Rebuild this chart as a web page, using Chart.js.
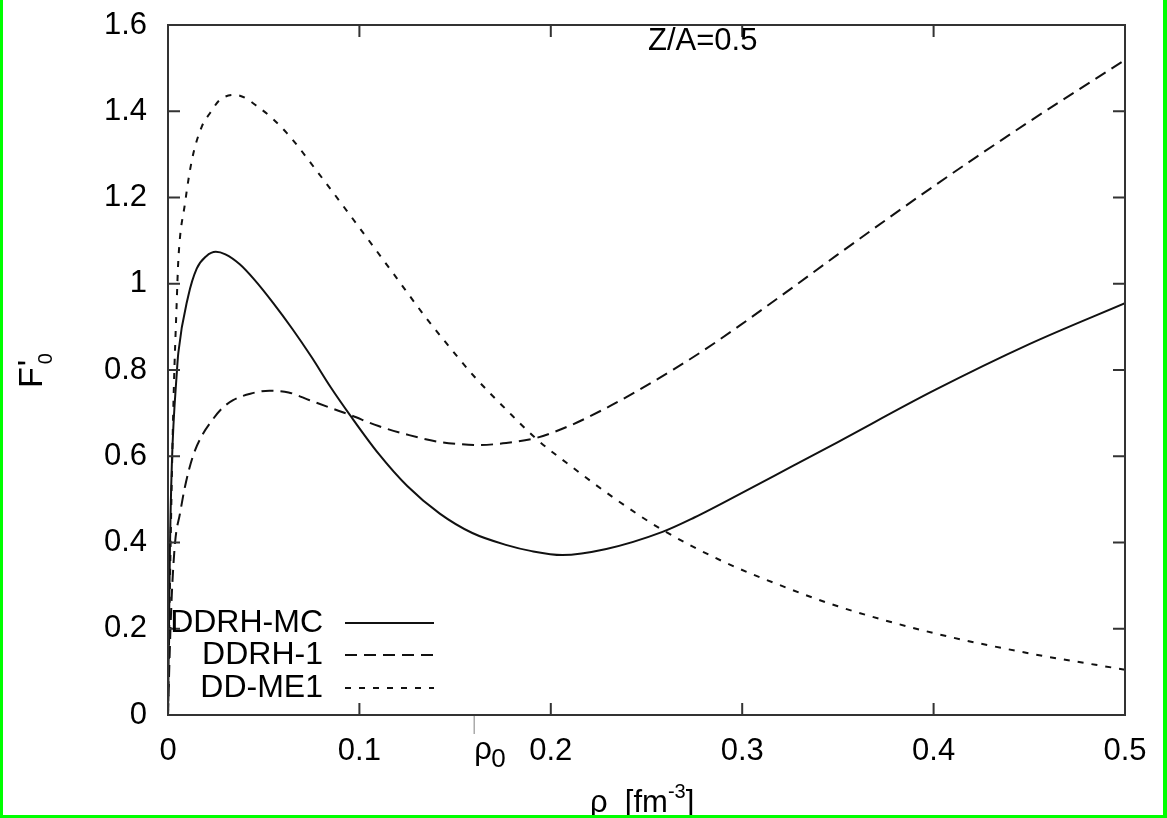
<!DOCTYPE html>
<html>
<head>
<meta charset="utf-8">
<script src="https://cdn.jsdelivr.net/npm/chart.js@4.4.1/dist/chart.umd.min.js"></script>
<style>
  html, body { margin: 0; padding: 0; background: #fff; }
  #wrap { width: 1167px; height: 818px; }
</style>
</head>
<body>
<div id="wrap"><canvas id="grafico" width="1167" height="818"></canvas></div>
<script>
// densidad rho [fm^-3] y F'0 para cada parametrizacion
const rhoMC = [0, 0.001, 0.002, 0.0047, 0.0054, 0.0105, 0.015, 0.02, 0.025, 0.03, 0.0375, 0.045, 0.055, 0.065, 0.075, 0.085, 0.095, 0.11, 0.125, 0.142, 0.159, 0.177, 0.19, 0.206, 0.229, 0.258, 0.275, 0.29, 0.325, 0.35, 0.4, 0.45, 0.5];
const valMC = [0, 0.38, 0.58, 0.8, 0.84, 0.97, 1.035, 1.064, 1.074, 1.068, 1.045, 1.01, 0.955, 0.895, 0.83, 0.76, 0.696, 0.606, 0.531, 0.467, 0.422, 0.394, 0.38, 0.371, 0.385, 0.424, 0.458, 0.492, 0.574, 0.633, 0.752, 0.86, 0.955];

const rho1 = [0, 0.001, 0.002, 0.0037, 0.0063, 0.0089, 0.013, 0.018, 0.022, 0.028, 0.034, 0.043, 0.053, 0.063, 0.074, 0.085, 0.095, 0.11, 0.126, 0.142, 0.153, 0.163, 0.175, 0.192, 0.21, 0.229, 0.245, 0.264, 0.28, 0.299, 0.325, 0.35, 0.4, 0.45, 0.5];
const val1 = [0, 0.16, 0.28, 0.4, 0.468, 0.53, 0.6, 0.65, 0.677, 0.71, 0.73, 0.745, 0.752, 0.748, 0.73, 0.712, 0.696, 0.67, 0.649, 0.633, 0.628, 0.626, 0.63, 0.642, 0.671, 0.712, 0.751, 0.801, 0.846, 0.904, 0.987, 1.068, 1.226, 1.376, 1.519];

const rhoME = [0, 0.001, 0.002, 0.003, 0.0045, 0.0054, 0.0089, 0.0125, 0.0176, 0.022, 0.027, 0.035, 0.048, 0.062, 0.078, 0.1, 0.118, 0.135, 0.144, 0.16, 0.177, 0.192, 0.212, 0.235, 0.258, 0.29, 0.325, 0.35, 0.4, 0.45, 0.5];
const valME = [0, 0.3, 0.55, 0.75, 0.95, 1.055, 1.187, 1.287, 1.364, 1.396, 1.426, 1.438, 1.407, 1.35, 1.26, 1.13, 1.022, 0.92, 0.87, 0.785, 0.707, 0.642, 0.572, 0.497, 0.43, 0.356, 0.292, 0.252, 0.19, 0.143, 0.105];

const etiquetas = ['DDRH-MC', 'DDRH-1', 'DD-ME1'];
const rho0 = 0.16;
const ticksX = [0, 0.1, 0.2, 0.3, 0.4, 0.5];
const ticksY = [0, 0.2, 0.4, 0.6, 0.8, 1, 1.2, 1.4, 1.6];

const FUENTE = '"Liberation Sans", Arial, sans-serif';
const puntos = (xs, ys) => xs.map((x, i) => ({ x: x, y: ys[i] }));

// marco, ticks hacia dentro, leyenda y textos tipo gnuplot
const decorado = {
  id: 'decorado',
  afterDraw(chart) {
    const ctx = chart.ctx;
    const a = chart.chartArea;
    const sx = chart.scales.x;
    const sy = chart.scales.y;
    ctx.save();

    ctx.strokeStyle = '#333';
    ctx.lineWidth = 2;
    ctx.strokeRect(a.left, a.top, a.right - a.left, a.bottom - a.top);
    ctx.beginPath();
    ticksX.forEach(v => {
      const px = sx.getPixelForValue(v);
      ctx.moveTo(px, a.bottom); ctx.lineTo(px, a.bottom - 12);
      ctx.moveTo(px, a.top); ctx.lineTo(px, a.top + 12);
    });
    ticksY.forEach(v => {
      const py = sy.getPixelForValue(v);
      ctx.moveTo(a.left, py); ctx.lineTo(a.left + 12, py);
      ctx.moveTo(a.right, py); ctx.lineTo(a.right - 12, py);
    });
    ctx.stroke();

    // marca de rho0 bajo el eje
    const p0 = sx.getPixelForValue(rho0);
    ctx.strokeStyle = '#aaa';
    ctx.lineWidth = 1.5;
    ctx.beginPath();
    ctx.moveTo(p0, a.bottom + 1); ctx.lineTo(p0, a.bottom + 19);
    ctx.stroke();

    ctx.fillStyle = '#000';
    ctx.textAlign = 'left';
    ctx.textBaseline = 'alphabetic';
    ctx.font = '31px ' + FUENTE;
    ctx.fillText('ρ', p0, 759);
    ctx.font = '26px ' + FUENTE;
    ctx.fillText('0', p0 + 17, 767);

    ctx.font = '31px ' + FUENTE;
    ctx.fillText('Z/A=0.5', 648, 50);

    // titulo eje x
    ctx.font = '31px ' + FUENTE;
    let x = 590;
    ctx.fillText('ρ  [fm', x, 812);
    x += ctx.measureText('ρ  [fm').width;
    ctx.font = '20px ' + FUENTE;
    ctx.fillText('-3', x, 798);
    x += ctx.measureText('-3').width;
    ctx.font = '31px ' + FUENTE;
    ctx.fillText(']', x, 812);

    // titulo eje y: F'0 girado
    ctx.save();
    ctx.translate(42, 388);
    ctx.rotate(-Math.PI / 2);
    ctx.font = '34px ' + FUENTE;
    ctx.fillText('F', 0, 0);
    const w = ctx.measureText('F').width;
    ctx.fillText("'", w + 1, -1);
    ctx.font = '20px ' + FUENTE;
    ctx.fillText('0', w + 3, 10);
    ctx.restore();

    // leyenda
    const filas = [623, 655, 688];
    chart.data.datasets.forEach((ds, i) => {
      ctx.font = '32px ' + FUENTE;
      ctx.textAlign = 'right';
      ctx.textBaseline = 'middle';
      ctx.fillStyle = '#000';
      ctx.fillText(ds.label, 323, filas[i]);
      ctx.strokeStyle = ds.borderColor;
      ctx.lineWidth = ds.borderWidth;
      ctx.setLineDash(ds.borderDash || []);
      ctx.beginPath();
      ctx.moveTo(345, filas[i]); ctx.lineTo(434, filas[i]);
      ctx.stroke();
      ctx.setLineDash([]);
    });

    // borde verde
    ctx.fillStyle = '#00ff00';
    ctx.fillRect(0, 0, 3, 818);
    ctx.fillRect(1163, 0, 4, 818);
    ctx.fillRect(0, 815, 1167, 3);
    ctx.restore();
  }
};

const serie = (label, data, dash) => ({
  label: label,
  data: data,
  borderColor: '#111',
  borderWidth: 2,
  borderDash: dash,
  pointRadius: 0,
  cubicInterpolationMode: 'monotone',
  fill: false
});

new Chart(document.getElementById('grafico'), {
  type: 'line',
  data: {
    datasets: [
      serie(etiquetas[0], puntos(rhoMC, valMC), []),
      serie(etiquetas[1], puntos(rho1, val1), [12, 7]),
      serie(etiquetas[2], puntos(rhoME, valME), [6, 8])
    ]
  },
  options: {
    responsive: false,
    animation: false,
    layout: { padding: { left: 0, top: 25, right: 42, bottom: 0 } },
    plugins: { legend: { display: false }, tooltip: { enabled: false } },
    scales: {
      x: {
        type: 'linear',
        min: 0, max: 0.5,
        afterFit: s => { s.height = 103; s.paddingLeft = 0; s.paddingRight = 0; },
        afterBuildTicks: s => { s.ticks = ticksX.map(v => ({ value: v })); },
        grid: { display: false, drawTicks: false },
        border: { display: false },
        ticks: { color: '#000', padding: 18, maxRotation: 0, callback: v => String(v), font: { size: 31, family: FUENTE } }
      },
      y: {
        min: 0, max: 1.6,
        afterFit: s => { s.width = 168; s.paddingTop = 0; s.paddingBottom = 0; },
        afterBuildTicks: s => { s.ticks = ticksY.map(v => ({ value: v })); },
        grid: { display: false, drawTicks: false },
        border: { display: false },
        ticks: { color: '#000', padding: 21, callback: v => String(v), font: { size: 31, family: FUENTE } }
      }
    }
  },
  plugins: [decorado]
});
</script>
</body>
</html>
